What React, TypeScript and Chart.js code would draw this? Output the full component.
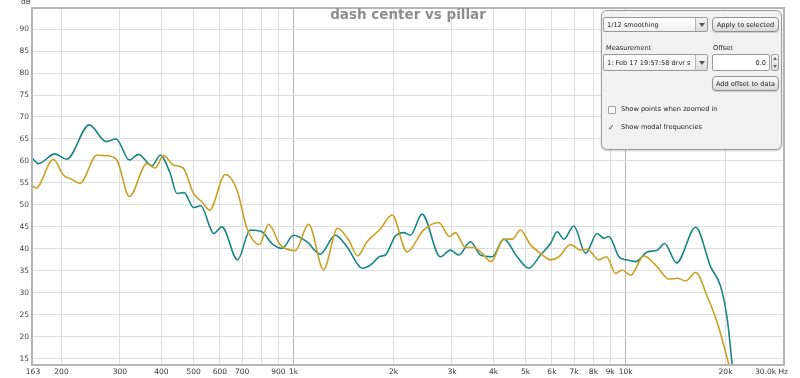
import React, { useEffect, useRef } from "react";
import { Chart, registerables } from "chart.js";
Chart.register(...registerables);

const chartTitle = "dash center vs pillar";

const tealFreq = [163, 170.3, 191.2, 207.4, 242.6, 272.5, 292.1, 320.3, 341.0, 374.3, 396.5, 424.9, 445.1, 468.3, 499.4, 525.7, 561.0, 574.1, 608.5, 678.0, 740.3, 803.0, 860.6, 922.6, 1000, 1097.5, 1203.7, 1335.8, 1448.6, 1607.8, 1703, 1825, 1890, 2026, 2146, 2248, 2438, 2768, 2968, 3144, 3409, 3654, 3963, 4297, 4716, 5110, 5542, 5940, 6223, 6515, 6985, 7574, 8213, 8600, 8904, 9546, 10048, 10717, 11627, 12458, 13105, 14247, 16255, 18040, 19340, 20260, 20970];
const tealDb = [60.7, 59.4, 61.6, 60.4, 68.2, 64.4, 65.0, 60.2, 61.5, 58.9, 61.3, 57.2, 52.6, 52.8, 49.4, 49.8, 44.8, 43.5, 45.0, 37.5, 44.3, 43.9, 41.2, 40.1, 43.1, 41.6, 38.8, 43.1, 40.5, 35.6, 36.3, 38.3, 38.6, 42.9, 43.7, 43.1, 47.9, 38.2, 39.7, 38.6, 41.6, 38.6, 38.2, 42.2, 38.2, 35.6, 38.6, 41.2, 43.9, 42.2, 45.2, 39.0, 43.5, 42.4, 42.8, 38.2, 37.5, 37.1, 39.3, 39.7, 41.2, 36.8, 44.9, 35.9, 31.4, 23.8, 13.2];

const goldFreq = [163, 167.6, 189.0, 202.6, 214.7, 227.5, 255.5, 273.8, 293.5, 320.3, 361.4, 382.8, 405.5, 434.8, 466.1, 499.4, 529.4, 558.3, 622.6, 675.2, 723.5, 789.8, 840.7, 911.8, 1011.8, 1109.7, 1231.4, 1357.2, 1465, 1559.6, 1664, 1825, 1980, 2197, 2465, 2736, 2954, 3072, 3293, 3488, 3697, 3936, 4297, 4555, 4825, 5171, 5542, 5940, 6294, 6826, 7316, 7665, 8306, 8763, 9329, 9772, 10351, 11353, 12458, 13503, 14316, 15165, 16255, 17633, 18900, 20485];
const goldDb = [54.5, 53.8, 60.4, 56.8, 55.8, 54.9, 61.3, 61.2, 60.2, 51.9, 59.4, 58.4, 61.2, 59.1, 58.3, 52.6, 50.7, 48.8, 56.9, 53.4, 44.7, 41.0, 45.6, 40.9, 39.6, 45.6, 35.3, 44.7, 42.0, 38.4, 41.6, 44.5, 47.7, 39.3, 44.3, 46.0, 42.8, 43.7, 40.3, 40.3, 39.0, 37.1, 42.2, 42.2, 44.3, 40.9, 39.0, 37.5, 38.2, 41.0, 39.7, 39.9, 37.5, 38.2, 34.4, 35.2, 34.0, 38.4, 35.9, 33.1, 33.3, 32.7, 34.6, 29.1, 23.1, 13.6];

const xTicks = [163, 200, 300, 400, 500, 600, 700, 800, 900, 1000, 2000, 3000, 4000, 5000, 6000, 7000, 8000, 9000, 10000, 20000, 30000];
const xTickLabels = ["163", "200", "300", "400", "500", "600", "700", "", "900", "1k", "2k", "3k", "4k", "5k", "6k", "7k", "8k", "9k", "10k", "20k", "30.0k Hz"];
const yTicks = [15, 20, 25, 30, 35, 40, 45, 50, 55, 60, 65, 70, 75, 80, 85, 90];
const yUnit = "dB";

const xMin = 163;
const xMax = 30000;
const yMin = 13.57;
const yMax = 94.8;

const FONT = '"DejaVu Sans", sans-serif';
const PF = 6.6;

const decorPlugin = {
  id: "decor",
  beforeDraw(chart: any) {
    const { ctx, width, height } = chart;
    ctx.save();
    ctx.fillStyle = "#ffffff";
    ctx.fillRect(0, 0, width, height);
    ctx.restore();
  },
  afterDraw(chart: any) {
    const { ctx, chartArea } = chart;
    const xs = chart.scales.x;
    ctx.save();
    ctx.strokeStyle = "#b5b5b5";
    ctx.lineWidth = 2;
    ctx.strokeRect(chartArea.left, chartArea.top, chartArea.right - chartArea.left, chartArea.bottom - chartArea.top);
    ctx.font = `7.5px ${FONT}`;
    ctx.fillStyle = "#333333";
    ctx.textBaseline = "middle";
    xTicks.forEach((v, i) => {
      const px = xs.getPixelForValue(v);
      const t = xTickLabels[i];
      if (!t) return;
      if (i === xTicks.length - 1) {
        ctx.textAlign = "right";
        ctx.fillText(t, px + 4, 372);
      } else {
        ctx.textAlign = "center";
        ctx.fillText(t, px + (i === 0 ? 1 : 0), 372);
      }
    });
    ctx.textAlign = "center";
    ctx.fillText(yUnit, 26, 2);
    ctx.font = `bold 13.5px ${FONT}`;
    ctx.fillStyle = "#8e8e8e";
    ctx.textAlign = "center";
    ctx.textBaseline = "alphabetic";
    ctx.fillText(chartTitle, 408, 19);
    ctx.restore();
  },
};

const btn: React.CSSProperties = {
  position: "absolute",
  boxSizing: "border-box",
  background: "linear-gradient(#fbfbfb, #d9d9d9)",
  border: "1px solid #8f8f8f",
  borderRadius: 4,
  fontFamily: FONT,
  fontSize: PF,
  color: "#222",
  display: "flex",
  alignItems: "center",
  justifyContent: "center",
  boxShadow: "0 1px 1px rgba(0,0,0,0.15)",
  whiteSpace: "nowrap",
};

const sel: React.CSSProperties = {
  position: "absolute",
  boxSizing: "border-box",
  background: "linear-gradient(#ffffff, #f0f0f0)",
  border: "1px solid #9a9a9a",
  borderRadius: 2,
  fontFamily: FONT,
  fontSize: PF,
  color: "#222",
  display: "flex",
  alignItems: "center",
  paddingLeft: 3,
  whiteSpace: "nowrap",
  overflow: "hidden",
};

function Arrow() {
  return (
    <div style={{ position: "absolute", right: 0, top: 0, bottom: 0, width: 11, borderLeft: "1px solid #b5b5b5", background: "linear-gradient(#f4f4f4, #dcdcdc)", display: "flex", alignItems: "center", justifyContent: "center" }}>
      <div style={{ width: 0, height: 0, borderLeft: "3px solid transparent", borderRight: "3px solid transparent", borderTop: "4px solid #555" }} />
    </div>
  );
}

function Panel() {
  const txt: React.CSSProperties = { position: "absolute", fontFamily: FONT, fontSize: PF, color: "#222", whiteSpace: "nowrap" };
  const cb: React.CSSProperties = { position: "absolute", boxSizing: "border-box", width: 8, height: 8, border: "1px solid #a0a0a0", background: "#fff", borderRadius: 1 };
  return (
    <div style={{ position: "absolute", left: 601, top: 10, width: 181, height: 140, boxSizing: "border-box", background: "#f1f1f1", border: "1.5px solid #9c9c9c", borderRadius: 6, boxShadow: "0 1px 2px rgba(0,0,0,0.2)" }}>
      <div style={{ ...sel, left: 1, top: 6, width: 105, height: 15 }}>1/12 smoothing<Arrow /></div>
      <div style={{ ...btn, left: 110, top: 6, width: 67, height: 15 }}>Apply to selected</div>
      <div style={{ ...txt, left: 4, top: 33 }}>Measurement</div>
      <div style={{ ...txt, left: 111, top: 33 }}>Offset</div>
      <div style={{ ...sel, left: 1, top: 43, width: 105, height: 17 }}>1: Feb 17 19:57:58 drvr s<Arrow /></div>
      <div style={{ ...sel, left: 110, top: 43, width: 58, height: 17, justifyContent: "flex-end", paddingRight: 3, background: "#fff" }}>0.0</div>
      <div style={{ position: "absolute", left: 169, top: 43, width: 8, height: 17, boxSizing: "border-box", border: "1px solid #a0a0a0", borderRadius: 2, background: "linear-gradient(#f7f7f7, #dedede)", display: "flex", flexDirection: "column", alignItems: "center", justifyContent: "space-around" }}>
        <div style={{ width: 0, height: 0, borderLeft: "2px solid transparent", borderRight: "2px solid transparent", borderBottom: "3px solid #666" }} />
        <div style={{ width: 0, height: 0, borderLeft: "2px solid transparent", borderRight: "2px solid transparent", borderTop: "3px solid #666" }} />
      </div>
      <div style={{ ...btn, left: 110, top: 65, width: 67, height: 15 }}>Add offset to data</div>
      <div style={{ ...cb, left: 6, top: 95 }} />
      <div style={{ ...txt, left: 19, top: 94 }}>Show points when zoomed in</div>
      <div style={{ ...cb, left: 6, top: 113, border: "none", background: "transparent", fontSize: 8, lineHeight: "8px", fontFamily: FONT, color: "#333" }}>✓</div>
      <div style={{ ...txt, left: 19, top: 112 }}>Show modal frequencies</div>
    </div>
  );
}

export default function App() {
  const ref = useRef<HTMLCanvasElement | null>(null);
  useEffect(() => {
    if (!ref.current) return;
    const gridColor = (c: any) => {
      const v = c.tick ? c.tick.value : 0;
      return v === 1000 || v === 10000 ? "#b7b7b7" : "#dddddd";
    };
    const chart = new Chart(ref.current, {
      type: "line",
      data: {
        datasets: [
          {
            label: "pillar",
            data: goldFreq.map((f, i) => ({ x: f, y: goldDb[i] })),
            borderColor: "#c9a124",
            borderWidth: 1.6,
            pointRadius: 0,
            cubicInterpolationMode: "monotone",
            fill: false,
          },
          {
            label: "dash center",
            data: tealFreq.map((f, i) => ({ x: f, y: tealDb[i] })),
            borderColor: "#178585",
            borderWidth: 1.6,
            pointRadius: 0,
            cubicInterpolationMode: "monotone",
            fill: false,
          },
        ],
      },
      options: {
        animation: false,
        responsive: false,
        devicePixelRatio: 1,
        parsing: false as any,
        layout: { padding: { left: 0, top: 8, right: 16, bottom: 0 } },
        plugins: { legend: { display: false }, tooltip: { enabled: false }, title: { display: false } },
        scales: {
          x: {
            type: "logarithmic",
            min: xMin,
            max: xMax,
            afterBuildTicks: (s: any) => {
              s.ticks = xTicks.map((v) => ({ value: v }));
            },
            afterFit: (s: any) => {
              s.height = 13;
            },
            ticks: { display: false },
            grid: { color: gridColor, lineWidth: 1, drawTicks: false },
            border: { display: false },
          },
          y: {
            type: "linear",
            min: yMin,
            max: yMax,
            afterBuildTicks: (s: any) => {
              s.ticks = yTicks.map((v) => ({ value: v }));
            },
            afterFit: (s: any) => {
              s.width = 32;
            },
            ticks: { color: "#444", font: { size: 7.5, family: FONT }, padding: 3, callback: (v: any) => String(v) },
            grid: { color: "#dddddd", lineWidth: 1, drawTicks: false },
            border: { display: false },
          },
        },
      },
      plugins: [decorPlugin],
    } as any);
    return () => chart.destroy();
  }, []);
  return (
    <div style={{ position: "fixed", left: 0, top: 0, width: 800, height: 378, background: "#fff", overflow: "hidden" }}>
      <canvas ref={ref} width={800} height={378} style={{ display: "block" }} />
      <Panel />
    </div>
  );
}
